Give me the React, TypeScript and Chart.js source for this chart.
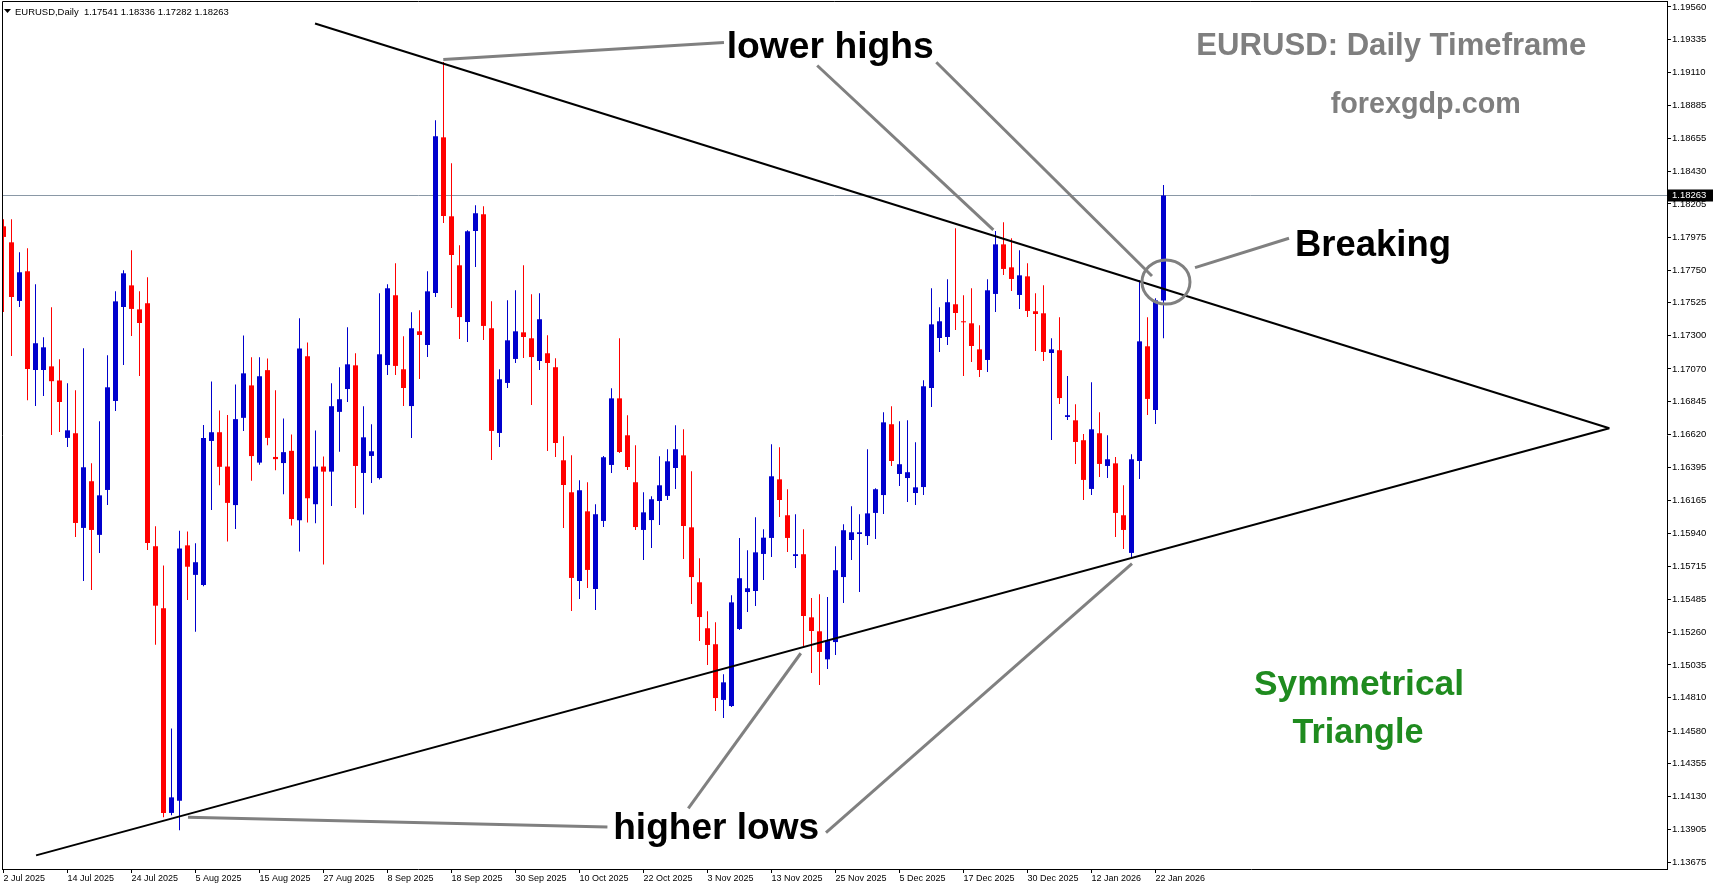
import React, { useEffect, useRef } from 'react';
import { Chart, registerables } from 'chart.js';

Chart.register(...registerables);

// ---- Data (EURUSD daily, 2 Jul 2025 .. 23 Jan 2026) ----
const opens = [
  1.18051, 1.17941, 1.17538, 1.17742, 1.17063, 1.17063, 1.17088, 1.16991, 1.16596, 1.16628,
  1.15977, 1.16298, 1.15929, 1.16238, 1.16850, 1.17496, 1.17645, 1.17480, 1.17522, 1.15851,
  1.15424, 1.14017, 1.14100, 1.15857, 1.15654, 1.15585, 1.16575, 1.16635, 1.16399, 1.16134,
  1.16734, 1.16957, 1.16426, 1.17062, 1.16465, 1.16423, 1.16507, 1.16029, 1.17157, 1.16140,
  1.16399, 1.16364, 1.16775, 1.16932, 1.17095, 1.16355, 1.16472, 1.16320, 1.17097, 1.17577,
  1.17068, 1.16815, 1.17329, 1.17235, 1.17593, 1.18663, 1.18120, 1.17783, 1.17393, 1.18019,
  1.18134, 1.17350, 1.16630, 1.16974, 1.17139, 1.17322, 1.17281, 1.17125, 1.17178, 1.17082,
  1.16442, 1.16222, 1.15612, 1.16091, 1.15557, 1.16025, 1.16410, 1.16868, 1.16614, 1.16291,
  1.15963, 1.16031, 1.16162, 1.16197, 1.16389, 1.16476, 1.15981, 1.15603, 1.15287, 1.15177,
  1.14794, 1.14752, 1.15282, 1.15536, 1.15543, 1.15798, 1.15908, 1.16311, 1.16064, 1.15784,
  1.15796, 1.15362, 1.15266, 1.15073, 1.15192, 1.15639, 1.15894, 1.15935, 1.15921, 1.16080,
  1.16203, 1.16690, 1.16348, 1.16320, 1.16217, 1.16258, 1.16939, 1.17283, 1.17290, 1.17515,
  1.17398, 1.17384, 1.17205, 1.17132, 1.17586, 1.17927, 1.17769, 1.17579, 1.17707, 1.17467,
  1.17453, 1.17180, 1.17199, 1.16740, 1.16717, 1.16580, 1.16245, 1.16628, 1.16403, 1.16421,
  1.16064, 1.15805, 1.16437, 1.17226, 1.16788, 1.17541,
];
const highs = [
  1.18099, 1.18099, 1.17872, 1.17900, 1.17652, 1.17288, 1.17494, 1.17137, 1.16972, 1.16923,
  1.17212, 1.16421, 1.16710, 1.17164, 1.17604, 1.17749, 1.17886, 1.17604, 1.17700, 1.15988,
  1.15719, 1.14598, 1.15958, 1.15952, 1.15871, 1.16685, 1.16984, 1.16784, 1.16754, 1.16963,
  1.17300, 1.17151, 1.17151, 1.17142, 1.16924, 1.16730, 1.16620, 1.17419, 1.17252, 1.16647,
  1.16468, 1.16972, 1.17082, 1.17357, 1.17178, 1.16813, 1.16690, 1.17590, 1.17652, 1.17797,
  1.17295, 1.17460, 1.17474, 1.17742, 1.18780, 1.19181, 1.18484, 1.17921, 1.18024, 1.18196,
  1.18189, 1.17535, 1.17068, 1.17542, 1.17611, 1.17783, 1.17584, 1.17590, 1.17302, 1.17143,
  1.16607, 1.16476, 1.16304, 1.16291, 1.16139, 1.16472, 1.16937, 1.17281, 1.16751, 1.16545,
  1.16222, 1.16194, 1.16470, 1.16518, 1.16683, 1.16655, 1.16366, 1.15768, 1.15404, 1.15328,
  1.14970, 1.15514, 1.15908, 1.15823, 1.16050, 1.15968, 1.16552, 1.16531, 1.16243, 1.16071,
  1.15968, 1.15495, 1.15520, 1.15502, 1.15851, 1.16002, 1.16126, 1.16071, 1.16518, 1.16249,
  1.16772, 1.16813, 1.16710, 1.16717, 1.16566, 1.16992, 1.17625, 1.17494, 1.17687, 1.18037,
  1.17577, 1.17625, 1.17370, 1.17687, 1.18019, 1.18079, 1.17969, 1.17886, 1.17797, 1.17590,
  1.17646, 1.17281, 1.17425, 1.17022, 1.16827, 1.16623, 1.16978, 1.16772, 1.16614, 1.16465,
  1.16270, 1.16483, 1.17680, 1.17425, 1.17556, 1.18336,
];
const lows = [
  1.17462, 1.17159, 1.17496, 1.16855, 1.16816, 1.16884, 1.16616, 1.16637, 1.16534, 1.15915,
  1.15612, 1.15550, 1.15805, 1.16135, 1.16781, 1.17098, 1.17297, 1.17022, 1.15825, 1.15174,
  1.13987, 1.14001, 1.13898, 1.15481, 1.15263, 1.15575, 1.16101, 1.16271, 1.15884, 1.15970,
  1.16644, 1.16301, 1.16411, 1.16545, 1.16373, 1.16209, 1.15994, 1.15815, 1.16015, 1.16009,
  1.15725, 1.16128, 1.16500, 1.16843, 1.16114, 1.16069, 1.16286, 1.16310, 1.17029, 1.17029,
  1.16815, 1.16595, 1.17001, 1.17152, 1.17565, 1.18074, 1.17489, 1.17276, 1.17256, 1.17771,
  1.17269, 1.16444, 1.16533, 1.16939, 1.17111, 1.17146, 1.16822, 1.17063, 1.16506, 1.16465,
  1.15976, 1.15406, 1.15488, 1.15564, 1.15413, 1.15983, 1.16355, 1.16492, 1.16375, 1.15963,
  1.15756, 1.15839, 1.15997, 1.16169, 1.16245, 1.15763, 1.15454, 1.15199, 1.15034, 1.14718,
  1.14670, 1.14745, 1.15275, 1.15399, 1.15440, 1.15619, 1.15777, 1.16052, 1.15811, 1.15701,
  1.15165, 1.14979, 1.14897, 1.15007, 1.15103, 1.15461, 1.15756, 1.15536, 1.15860, 1.15901,
  1.16073, 1.16403, 1.16265, 1.16155, 1.16135, 1.16203, 1.16809, 1.17187, 1.17235, 1.17338,
  1.17022, 1.17118, 1.17015, 1.17049, 1.17462, 1.17716, 1.17606, 1.17482, 1.17427, 1.17194,
  1.17125, 1.16582, 1.16829, 1.16719, 1.16417, 1.16169, 1.16203, 1.16327, 1.16320, 1.15915,
  1.15832, 1.15777, 1.16313, 1.16754, 1.16692, 1.17282,
];
const closes = [
  1.17978, 1.17565, 1.17735, 1.17070, 1.17247, 1.17219, 1.16986, 1.16843, 1.16648, 1.16011,
  1.16394, 1.15963, 1.16201, 1.16944, 1.17535, 1.17728, 1.17483, 1.17386, 1.15874, 1.15442,
  1.14017, 1.14124, 1.15836, 1.15710, 1.15741, 1.16596, 1.16635, 1.16397, 1.16149, 1.16725,
  1.17040, 1.16471, 1.17020, 1.16596, 1.16450, 1.16498, 1.16038, 1.17210, 1.16181, 1.16399,
  1.16364, 1.16814, 1.16862, 1.17102, 1.16403, 1.16600, 1.16504, 1.17171, 1.17625, 1.17091,
  1.16939, 1.17350, 1.17304, 1.17604, 1.18670, 1.18122, 1.17854, 1.17427, 1.18017, 1.18141,
  1.17366, 1.16644, 1.16999, 1.17267, 1.17329, 1.17290, 1.17152, 1.17412, 1.17111, 1.16561,
  1.16272, 1.15633, 1.16236, 1.15688, 1.16071, 1.16463, 1.16868, 1.16499, 1.16396, 1.15983,
  1.16084, 1.16174, 1.16270, 1.16435, 1.16518, 1.15990, 1.15639, 1.15364, 1.15172, 1.14807,
  1.14915, 1.15465, 1.15631, 1.15562, 1.15809, 1.15910, 1.16332, 1.16169, 1.15908, 1.15796,
  1.15371, 1.15268, 1.15124, 1.15199, 1.15686, 1.15961, 1.15947, 1.15947, 1.16077, 1.16243,
  1.16703, 1.16437, 1.16415, 1.16360, 1.16256, 1.16951, 1.17377, 1.17398, 1.17529, 1.17455,
  1.17391, 1.17228, 1.17063, 1.17611, 1.17927, 1.17758, 1.17689, 1.17714, 1.17469, 1.17448,
  1.17187, 1.17205, 1.16870, 1.16752, 1.16568, 1.16307, 1.16655, 1.16417, 1.16449, 1.16080,
  1.15963, 1.16449, 1.17260, 1.16864, 1.17542, 1.18263,
];

const xTickIndex = [0, 8, 16, 24, 32, 40, 48, 56, 64, 72, 80, 88, 96, 104, 112, 120, 128, 136, 144];
const xTickLabels = [
  '2 Jul 2025', '14 Jul 2025', '24 Jul 2025', '5 Aug 2025', '15 Aug 2025', '27 Aug 2025',
  '8 Sep 2025', '18 Sep 2025', '30 Sep 2025', '10 Oct 2025', '22 Oct 2025', '3 Nov 2025',
  '13 Nov 2025', '25 Nov 2025', '5 Dec 2025', '17 Dec 2025', '30 Dec 2025', '12 Jan 2026',
  '22 Jan 2026',
];
const yTickValues = [
  1.1956, 1.19335, 1.1911, 1.18885, 1.18655, 1.1843, 1.18205, 1.17975, 1.1775, 1.17525,
  1.173, 1.1707, 1.16845, 1.1662, 1.16395, 1.16165, 1.1594, 1.15715, 1.15485, 1.1526,
  1.15035, 1.1481, 1.1458, 1.14355, 1.1413, 1.13905, 1.13675,
];
const lastPrice = 1.18263;
const headerText = 'EURUSD,Daily  1.17541 1.18336 1.17282 1.18263';

// trend lines [index, price]
const upperTrend = [[38.94, 1.19446], [200.73, 1.16662]];
const lowerTrend = [[4.07, 1.13725], [200.73, 1.16662]];
// gray pointer lines [[fromIndex, fromPrice], [toIndex, toPrice]]
const pointerLines = [
  [[54.97, 1.19198], [90.06, 1.19315]],
  [[101.71, 1.19157], [123.73, 1.18026]],
  [[116.6, 1.19179], [143.56, 1.17709]],
  [[148.94, 1.17767], [160.69, 1.17969]],
  [[23.06, 1.13988], [75.49, 1.1392]],
  [[85.6, 1.14048], [99.66, 1.15115]],
  [[102.81, 1.13882], [141.06, 1.15731]],
];
const breakCircle = [145.31, 1.17668];
// annotation texts: [text, index, price(baseline), colour, width]
const noteTexts: [string, number, number, string, number][] = [
  ['lower highs', 103.34, 1.19209, '#000000', 207],
  ['higher lows', 89.09, 1.13838, '#000000', 206],
  ['Breaking', 171.19, 1.17848, '#000000', 156],
  ['EURUSD: Daily Timeframe', 173.48, 1.19232, '#7f7f7f', 390],
  ['forexgdp.com', 177.78, 1.18828, '#7f7f7f', 190],
  ['Symmetrical', 169.44, 1.14828, '#1f8b1f', 210],
  ['Triangle', 169.31, 1.14498, '#1f8b1f', 131],
];

const BLUE = '#0000CD';
const RED = '#FF0000';
const X_MIN = -0.1875;
const X_MAX = 207.9375;
const Y_MAX = 1.196006;
const Y_MIN = 1.136313;

export default function App() {
  const ref = useRef<HTMLCanvasElement>(null);

  useEffect(() => {
    document.body.style.margin = '0';
    const canvas = ref.current;
    if (!canvas) return;
    const idx = opens.map((_, i) => i);
    const colors = idx.map((i) => (closes[i] >= opens[i] ? BLUE : RED));

    const overlay = {
      id: 'overlay',
      beforeDatasetsDraw(chart: any) {
        const { ctx, chartArea: a } = chart;
        const y = Math.floor(chart.scales.y.getPixelForValue(lastPrice)) + 0.5;
        ctx.save();
        ctx.strokeStyle = '#8a98a6';
        ctx.lineWidth = 1;
        ctx.beginPath();
        ctx.moveTo(a.left, y);
        ctx.lineTo(a.right, y);
        ctx.stroke();
        ctx.restore();
      },
      afterDatasetsDraw(chart: any) {
        const { ctx, chartArea: a } = chart;
        const sx = chart.scales.x;
        const sy = chart.scales.y;
        const P = (pt: number[]) => [sx.getPixelForValue(pt[0]), sy.getPixelForValue(pt[1])];
        ctx.save();
        ctx.beginPath();
        ctx.rect(a.left, a.top, a.right - a.left, a.bottom - a.top);
        ctx.clip();

        // trend lines
        ctx.strokeStyle = '#000';
        ctx.lineWidth = 2;
        for (const ln of [upperTrend, lowerTrend]) {
          const p0 = P(ln[0]);
          const p1 = P(ln[1]);
          ctx.beginPath();
          ctx.moveTo(p0[0], p0[1]);
          ctx.lineTo(p1[0], p1[1]);
          ctx.stroke();
        }
        // pointer lines
        ctx.strokeStyle = '#808080';
        ctx.lineWidth = 3;
        for (const ln of pointerLines) {
          const p0 = P(ln[0]);
          const p1 = P(ln[1]);
          ctx.beginPath();
          ctx.moveTo(p0[0], p0[1]);
          ctx.lineTo(p1[0], p1[1]);
          ctx.stroke();
        }
        // circle
        const c = P(breakCircle);
        ctx.beginPath();
        ctx.ellipse(c[0], c[1], 24, 22, 0, 0, Math.PI * 2);
        ctx.stroke();

        // texts
        ctx.textAlign = 'center';
        ctx.textBaseline = 'alphabetic';
        for (const [t, ix, pr, col, w] of noteTexts) {
          ctx.font = 'bold 40px "Liberation Sans", Arial, sans-serif';
          const mw = ctx.measureText(t).width;
          const size = (40 * w) / mw;
          ctx.font = `bold ${size.toFixed(2)}px "Liberation Sans", Arial, sans-serif`;
          ctx.fillStyle = col;
          ctx.fillText(t, sx.getPixelForValue(ix), sy.getPixelForValue(pr));
        }
        ctx.restore();

        // frame (left/top)
        ctx.save();
        ctx.strokeStyle = '#000';
        ctx.lineWidth = 1;
        ctx.beginPath();
        ctx.moveTo(a.left + 0.5, a.bottom);
        ctx.lineTo(a.left + 0.5, a.top + 0.5);
        ctx.lineTo(a.right, a.top + 0.5);
        ctx.stroke();

        // header
        ctx.fillStyle = '#000';
        ctx.beginPath();
        ctx.moveTo(4, 9);
        ctx.lineTo(11, 9);
        ctx.lineTo(7.5, 13);
        ctx.closePath();
        ctx.fill();
        ctx.font = '11px "Liberation Sans", Arial, sans-serif';
        const hw = ctx.measureText(headerText).width;
        const hs = (11 * 214) / hw;
        ctx.font = `${hs.toFixed(2)}px "Liberation Sans", Arial, sans-serif`;
        ctx.textAlign = 'left';
        ctx.textBaseline = 'alphabetic';
        ctx.fillText(headerText, 15, 15);
        ctx.restore();
      },
      afterDraw(chart: any) {
        const { ctx, chartArea: a } = chart;
        const y = Math.floor(chart.scales.y.getPixelForValue(lastPrice)) + 0.5;
        ctx.save();
        ctx.fillStyle = '#000';
        ctx.fillRect(a.right + 1, y - 6, 45, 12);
        ctx.fillStyle = '#fff';
        ctx.font = '9.5px "Liberation Sans", Arial, sans-serif';
        ctx.textAlign = 'left';
        ctx.textBaseline = 'middle';
        ctx.fillText(lastPrice.toFixed(5), a.right + 5, y);
        ctx.restore();
      },
    };

    const chart = new Chart(canvas, {
      type: 'bar',
      data: {
        datasets: [
          {
            label: 'wick',
            data: idx.map((i) => ({ x: i, y: [lows[i], highs[i]] })) as any,
            backgroundColor: colors,
            barThickness: 1,
            grouped: false,
            inflateAmount: 0,
            borderWidth: 0,
            order: 2,
          } as any,
          {
            label: 'body',
            data: idx.map((i) => ({ x: i, y: [opens[i], closes[i]] })) as any,
            backgroundColor: colors,
            barThickness: 5,
            grouped: false,
            inflateAmount: 0,
            borderWidth: 0,
            minBarLength: 1,
            order: 1,
          } as any,
        ],
      },
      options: {
        responsive: false,
        animation: false,
        devicePixelRatio: 1,
        layout: { padding: { left: 2, top: 1, right: 0, bottom: 0 } },
        plugins: { legend: { display: false }, tooltip: { enabled: false } },
        scales: {
          x: {
            type: 'linear',
            min: X_MIN,
            max: X_MAX,
            offset: false,
            grid: { drawOnChartArea: false, drawTicks: true, tickLength: 4, color: '#000', offset: false },
            border: { display: true, color: '#000' },
            ticks: {
              autoSkip: false,
              maxRotation: 0,
              minRotation: 0,
              align: 'start',
              padding: 0,
              color: '#000',
              font: { family: '"Liberation Sans", Arial, sans-serif', size: 9 },
              callback: (v: any) => {
                const k = xTickIndex.indexOf(Number(v));
                return k >= 0 ? xTickLabels[k] : '';
              },
            },
            afterBuildTicks: (s: any) => {
              s.ticks = xTickIndex.map((v) => ({ value: v }));
            },
            afterFit: (s: any) => {
              s.height = 19;
              s.paddingLeft = 0;
              s.paddingRight = 0;
              s.paddingTop = 0;
              s.paddingBottom = 0;
            },
          },
          y: {
            type: 'linear',
            position: 'right',
            min: Y_MIN,
            max: Y_MAX,
            beginAtZero: false,
            grid: { drawOnChartArea: false, drawTicks: true, tickLength: 4, color: '#000' },
            border: { display: true, color: '#000' },
            ticks: {
              autoSkip: false,
              padding: 1,
              color: '#000',
              font: { family: '"Liberation Sans", Arial, sans-serif', size: 9.5 },
              callback: (v: any) => Number(v).toFixed(5),
            },
            afterBuildTicks: (s: any) => {
              s.ticks = yTickValues.map((v) => ({ value: v }));
            },
            afterFit: (s: any) => {
              s.width = 46;
              s.paddingLeft = 0;
              s.paddingRight = 0;
              s.paddingTop = 0;
              s.paddingBottom = 0;
            },
          },
        },
      } as any,
      plugins: [overlay],
    });
    return () => chart.destroy();
  }, []);

  return (
    <div style={{ position: 'absolute', left: 0, top: 0, width: 1713, height: 888, background: '#fff' }}>
      <canvas ref={ref} width={1713} height={888} style={{ display: 'block', width: 1713, height: 888 }} />
    </div>
  );
}
